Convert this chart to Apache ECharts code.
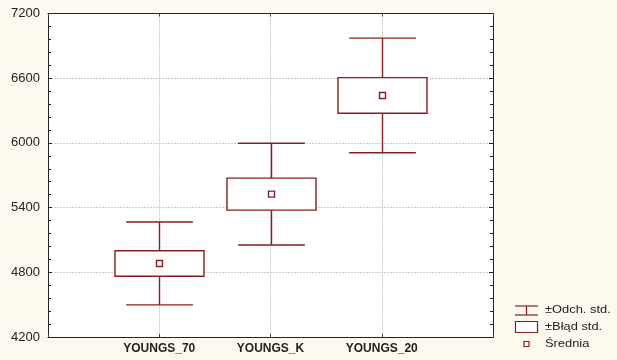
<!DOCTYPE html>
<html>
<head>
<meta charset="utf-8">
<script src="https://cdn.jsdelivr.net/npm/echarts@6/dist/echarts.min.js"></script>
<style>
  html, body { margin: 0; padding: 0; background: #fdf9ef; }
  #chart { width: 617px; height: 360px; }
</style>
</head>
<body>
<div id="chart"></div>
<script>
// Group names shown along the x axis
const categories = ['YOUNGS_70', 'YOUNGS_K', 'YOUNGS_20'];
// Mean of each group
const means = [4882, 5525, 6440];
// Standard error (half height of the box)
const stdErr = [118, 148, 165];
// Standard deviation (half span of the whiskers)
const stdDev = [384, 472, 532];
// Y axis ticks
const yTicks = [4200, 4800, 5400, 6000, 6600, 7200];
// Legend labels
const legendLabels = ['±Odch. std.', '±Błąd std.', 'Średnia'];

const RED = '#8b1c22';
const FONT = 'Liberation Sans, Arial, sans-serif';
const Y_MIN = yTicks[0];
const Y_MAX = yTicks[yTicks.length - 1];
const Y_STEP = yTicks[1] - yTicks[0];

const seriesData = categories.map((c, i) => [i + 1, means[i], stdErr[i], stdDev[i]]);

const chart = echarts.init(document.getElementById('chart'), null, { renderer: 'canvas' });

const gridLine = { show: true, lineStyle: { color: '#c9c9c9', type: [2, 1], width: 1 } };
const axisLineStyle = { show: true, lineStyle: { color: '#222', width: 1 } };

// value axis with tick marks only (used for the fine inside ticks)
function tickAxis(position, interval, len) {
  return {
    type: 'value', min: Y_MIN, max: Y_MAX, interval: interval, position: position,
    axisLine: axisLineStyle,
    axisTick: { show: true, inside: true, length: len, lineStyle: { color: '#222' } },
    axisLabel: { show: false },
    splitLine: { show: false }
  };
}

chart.setOption({
  backgroundColor: '#fdf9ef',
  animation: false,
  grid: { left: 48, right: 124, top: 13.5, bottom: 23, backgroundColor: '#ffffff', show: true, borderWidth: 0 },
  xAxis: [{
    type: 'value', min: 0, max: 4, interval: 1, position: 'bottom',
    axisLine: axisLineStyle,
    axisTick: { show: true, inside: true, length: 3, lineStyle: { color: '#444' } },
    axisLabel: {
      formatter: v => categories[v - 1] || '',
      color: '#222', fontFamily: FONT, fontWeight: 'bold', fontSize: 12, margin: 6
    },
    splitLine: gridLine
  }, {
    type: 'value', min: 0, max: 4, interval: 1, position: 'top',
    axisLine: axisLineStyle,
    axisTick: { show: true, inside: true, length: 3, lineStyle: { color: '#444' } },
    axisLabel: { show: false },
    splitLine: { show: false }
  }],
  yAxis: [{
    type: 'value', min: Y_MIN, max: Y_MAX, interval: Y_STEP, position: 'left',
    axisLine: axisLineStyle,
    axisTick: { show: true, inside: true, length: 4, lineStyle: { color: '#222' } },
    axisLabel: { color: '#222', fontFamily: FONT, fontSize: 13, margin: 8, formatter: v => String(v) },
    splitLine: gridLine
  },
    tickAxis('left', Y_STEP / 5, 3),
    tickAxis('right', Y_STEP / 5, 3),
    tickAxis('right', Y_STEP, 4)
  ],
  series: [{
    type: 'custom',
    xAxisIndex: 0, yAxisIndex: 0,
    data: seriesData,
    renderItem(params, api) {
      const x = api.value(0), m = api.value(1), se = api.value(2), sd = api.value(3);
      const cx = Math.round(api.coord([x, m])[0]) + 0.5;
      const ym = api.coord([x, m])[1];
      const ySeT = api.coord([x, m + se])[1];
      const ySeB = api.coord([x, m - se])[1];
      const ySdT = api.coord([x, m + sd])[1];
      const ySdB = api.coord([x, m - sd])[1];
      const boxHalf = api.size([0.4, 0])[0];
      const capHalf = api.size([0.3, 0])[0];
      const st = { stroke: RED, lineWidth: 1.4, fill: null };
      return {
        type: 'group',
        children: [
          { type: 'line', shape: { x1: cx, y1: ySeT, x2: cx, y2: ySdT }, style: st },
          { type: 'line', shape: { x1: cx, y1: ySeB, x2: cx, y2: ySdB }, style: st },
          { type: 'line', shape: { x1: cx - capHalf, y1: ySdT, x2: cx + capHalf, y2: ySdT }, style: st },
          { type: 'line', shape: { x1: cx - capHalf, y1: ySdB, x2: cx + capHalf, y2: ySdB }, style: st },
          { type: 'rect', shape: { x: cx - boxHalf, y: ySeT, width: boxHalf * 2, height: ySeB - ySeT },
            style: { stroke: RED, lineWidth: 1.4, fill: '#ffffff' } },
          { type: 'rect', shape: { x: cx - 3, y: ym - 3, width: 6, height: 6 },
            style: { stroke: RED, lineWidth: 1.4, fill: '#ffffff' } }
        ]
      };
    }
  }],
  graphic: [
    // legend: whisker symbol
    { type: 'line', shape: { x1: 515, y1: 306, x2: 538, y2: 306 }, style: { stroke: RED, lineWidth: 1.2 } },
    { type: 'line', shape: { x1: 515, y1: 315, x2: 538, y2: 315 }, style: { stroke: RED, lineWidth: 1.2 } },
    { type: 'line', shape: { x1: 526.5, y1: 306, x2: 526.5, y2: 315 }, style: { stroke: RED, lineWidth: 1.2 } },
    { type: 'text', x: 545, y: 304, scaleX: 1.17, style: { text: legendLabels[0], fill: '#222', font: '11px ' + FONT } },
    // legend: box symbol
    { type: 'rect', shape: { x: 515.5, y: 321.5, width: 22, height: 11 }, style: { stroke: RED, lineWidth: 1.2, fill: '#fff' } },
    { type: 'text', x: 545, y: 321, scaleX: 1.17, style: { text: legendLabels[1], fill: '#222', font: '11px ' + FONT } },
    // legend: mean marker
    { type: 'rect', shape: { x: 524, y: 341.5, width: 5, height: 5 }, style: { stroke: RED, lineWidth: 1.2, fill: '#fff' } },
    { type: 'text', x: 545, y: 338, scaleX: 1.17, style: { text: legendLabels[2], fill: '#222', font: '11px ' + FONT } }
  ]
});
</script>
</body>
</html>
